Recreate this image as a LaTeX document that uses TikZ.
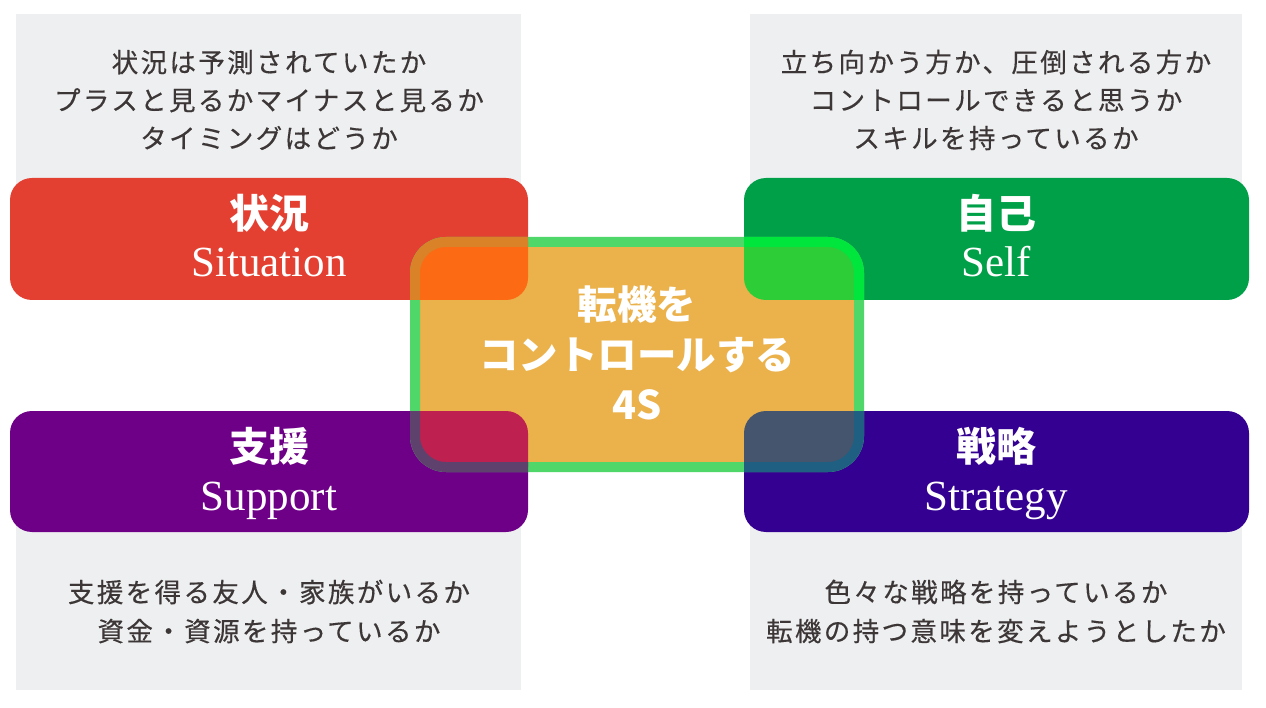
\documentclass[tikz,border=0pt]{standalone}
\usepackage{fontspec}
\newfontfamily\jp{Noto Sans CJK JP}
\newfontfamily\jpdesc{Noto Sans CJK JP}[LetterSpace=9, FakeBold=0.4]
\newfontfamily\enserif{Liberation Serif}
\definecolor{panelgray}{HTML}{EEEFF1}
\definecolor{desctext}{HTML}{3C3636}
\definecolor{cred}{HTML}{E44032}
\definecolor{cgreen}{HTML}{00A048}
\definecolor{cpurple}{HTML}{6E0087}
\definecolor{cindigo}{HTML}{340091}
\definecolor{cfill}{HTML}{EBB14B}
\definecolor{cring}{HTML}{50D769}
\definecolor{ovred}{HTML}{FC6A14}
\definecolor{rgred}{HTML}{DA8228}
\definecolor{ovgreen}{HTML}{2DCD37}
\definecolor{rggreen}{HTML}{00E63C}
\definecolor{ovpurple}{HTML}{BE2050}
\definecolor{rgpurple}{HTML}{5F416E}
\definecolor{ovindigo}{HTML}{46556E}
\definecolor{rgindigo}{HTML}{1E5F82}
\begin{document}
\begin{tikzpicture}[x=1pt,y=-1pt,
  every node/.style={outer sep=0pt},
  panel/.style={rectangle, fill=panelgray, draw=none, inner sep=0pt, minimum width=505pt},
  catbox/.style={rectangle, rounded corners=22pt, draw=none, inner sep=0pt, minimum width=518pt, minimum height=122pt},
  desc/.style={font=\jpdesc\fontsize{26.5}{38}\selectfont, text=desctext, align=center, inner sep=0pt},
  jptitle/.style={font=\jp\bfseries\fontsize{40}{44}\selectfont, text=white, inner sep=0pt},
  entitle/.style={font=\enserif\fontsize{43}{48}\selectfont, text=white, inner sep=0pt, anchor=base},
  centertext/.style={font=\jp\bfseries\fontsize{39.5}{50}\selectfont, text=white, align=center, inner sep=0pt},
  ring/.style={line width=10pt, rounded corners=31pt},
]
\useasboundingbox (0,0) rectangle (1266,708);
\fill[white] (0,0) rectangle (1266,708);
% gray panels
\node[panel, minimum height=176pt] (ptl) at (268.5,102) {};
\node[panel, minimum height=165pt] (pbl) at (268.5,607.5) {};
\node[panel, minimum width=492pt, minimum height=176pt] (ptr) at (996,102) {};
\node[panel, minimum width=492pt, minimum height=165pt] (pbr) at (996,607.5) {};
% category boxes
\node[catbox, fill=cred] (sit) at (269,239) {};
\node[catbox, fill=cgreen, minimum width=505pt] (slf) at (996.5,239) {};
\node[catbox, fill=cpurple, minimum height=121pt] (sup) at (269,471.5) {};
\node[catbox, fill=cindigo, minimum width=505pt, minimum height=121pt] (stg) at (996.5,471.5) {};
% center box
\node[rectangle, ring, draw=cring, fill=cfill, inner sep=0pt, minimum width=444pt, minimum height=225pt] (cbox) at (637,354.5) {};
% overlaps
\begin{scope}
  \clip[rounded corners=22pt] (sit.north west) rectangle (sit.south east);
  \path[ring, fill=ovred, draw=rgred] (cbox.north west) rectangle (cbox.south east);
\end{scope}
\begin{scope}
  \clip[rounded corners=22pt] (slf.north west) rectangle (slf.south east);
  \path[ring, fill=ovgreen, draw=rggreen] (cbox.north west) rectangle (cbox.south east);
\end{scope}
\begin{scope}
  \clip[rounded corners=22pt] (sup.north west) rectangle (sup.south east);
  \path[ring, fill=ovpurple, draw=rgpurple] (cbox.north west) rectangle (cbox.south east);
\end{scope}
\begin{scope}
  \clip[rounded corners=22pt] (stg.north west) rectangle (stg.south east);
  \path[ring, fill=ovindigo, draw=rgindigo] (cbox.north west) rectangle (cbox.south east);
\end{scope}
% descriptions
\node[desc] (dtl) at (269,100) {状況は予測されていたか\\プラスと見るかマイナスと見るか\\タイミングはどうか};
\node[desc] (dtr) at (996,100) {立ち向かう方か、圧倒される方か\\コントロールできると思うか\\スキルを持っているか};
\node[desc, font=\jpdesc\fontsize{26.5}{39}\selectfont] (dbl) at (269,611.5) {支援を得る友人・家族がいるか\\資金・資源を持っているか};
\node[desc, font=\jpdesc\fontsize{26.5}{39}\selectfont] (dbr) at (996,611.5) {色々な戦略を持っているか\\転機の持つ意味を変えようとしたか};
% titles
\node[jptitle] (tsit) at (269,213) {状況};
\node[entitle] (esit) at (269,277) {Situation};
\node[jptitle] (tslf) at (996,213) {自己};
\node[entitle] (eslf) at (996,277) {Self};
\node[jptitle] (tsup) at (269,446) {支援};
\node[entitle] (esup) at (269,510) {Support};
\node[jptitle] (tstg) at (996,446) {戦略};
\node[entitle] (estg) at (996,510) {Strategy};
% center text
\node[centertext] (ctext) at (637,353) {転機を\\コントロールする\\4S};
\end{tikzpicture}
\end{document}
